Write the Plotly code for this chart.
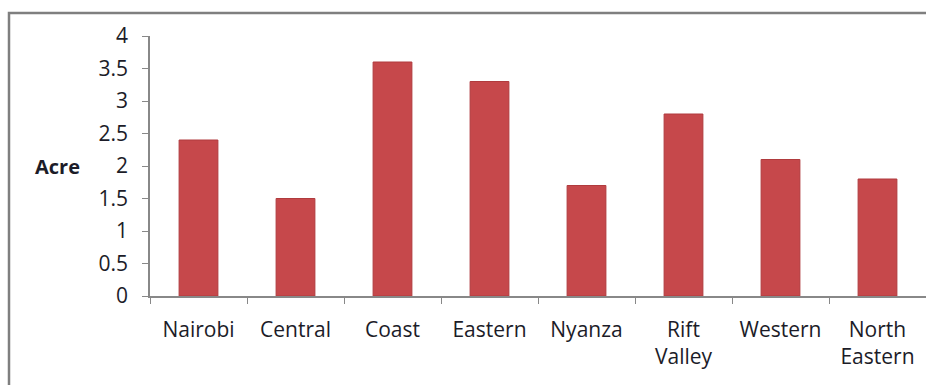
import plotly.graph_objects as go

regions = ["Nairobi", "Central", "Coast", "Eastern", "Nyanza",
           "Rift<br>Valley", "Western", "North<br>Eastern"]
acres = [2.4, 1.5, 3.6, 3.3, 1.7, 2.8, 2.1, 1.8]
y_ticks = [0, 0.5, 1, 1.5, 2, 2.5, 3, 3.5, 4]
y_tick_text = ["0", "0.5", "1", "1.5", "2", "2.5", "3", "3.5", "4"]

W, H = 926, 385
ML, MR, MT, MB = 150, 0, 36, 89
pw, ph = W - ML - MR, H - MT - MB

font = dict(family="'Open Sans', Lato, sans-serif", size=21, color="#1c1c28")

fig = go.Figure(go.Bar(
    x=regions, y=acres, width=0.4,
    marker=dict(color="#C6484B", line=dict(color="#B03B3E", width=1)),
))

fig.update_layout(
    width=W, height=H,
    margin=dict(l=ML, r=MR, t=MT, b=MB),
    paper_bgcolor="white", plot_bgcolor="white",
    font=font, showlegend=False,
    xaxis=dict(
        range=[-0.5, 7.5], showgrid=False, zeroline=False,
        showline=True, linecolor="#888888", linewidth=1.5,
        ticks="outside", tickson="boundaries", ticklen=6,
        tickcolor="#888888", ticklabelstandoff=14,
    ),
    yaxis=dict(
        range=[0, 4], tickvals=y_ticks, ticktext=y_tick_text,
        showgrid=False, zeroline=False,
        showline=True, linecolor="#888888", linewidth=1.5,
        ticks="outside", ticklen=6, tickcolor="#888888",
        ticklabelstandoff=10,
    ),
    shapes=[dict(
        type="rect", xref="paper", yref="paper",
        x0=(9 - ML) / pw, x1=1.2,
        y0=-0.6, y1=(H - MB - 13) / ph,
        line=dict(color="#7f7f7f", width=2.5),
        fillcolor="rgba(0,0,0,0)", layer="below",
    )],
    annotations=[dict(
        text="<b>Acre</b>", xref="paper", yref="y",
        x=(57 - ML) / pw, y=2, xanchor="center", yanchor="middle",
        showarrow=False, font=dict(family=font["family"], size=20, color="#1c1c28"),
    )],
)

fig.write_html("out.html")
